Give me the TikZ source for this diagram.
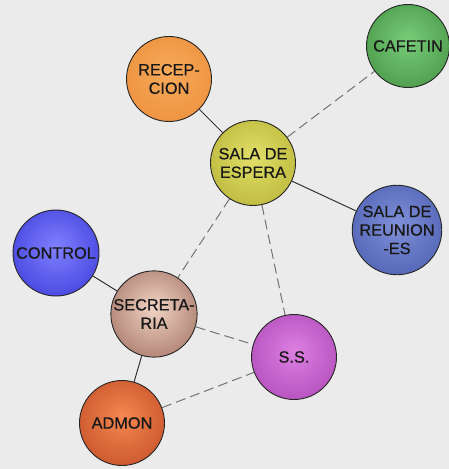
\documentclass[tikz,border=0pt]{standalone}
\usepackage{fontspec}
\setmainfont{Liberation Sans}[FakeBold=0.6]
\definecolor{bg}{HTML}{EBEBEB}
\definecolor{recIn}{HTML}{F8AA5A}\definecolor{recOut}{HTML}{E07A24}
\definecolor{cafIn}{HTML}{78CC78}\definecolor{cafOut}{HTML}{1F6A1F}
\definecolor{espIn}{HTML}{E2E06A}\definecolor{espOut}{HTML}{989210}
\definecolor{reuIn}{HTML}{8090DA}\definecolor{reuOut}{HTML}{22388E}
\definecolor{conIn}{HTML}{8080FF}\definecolor{conOut}{HTML}{0A0ABE}
\definecolor{secIn}{HTML}{F2D4C4}\definecolor{secOut}{HTML}{66281C}
\definecolor{ssIn}{HTML}{DC80E2}\definecolor{ssOut}{HTML}{8C1E96}
\definecolor{admIn}{HTML}{F68850}\definecolor{admOut}{HTML}{9A2208}
\newcommand{\mkshade}[3]{\pgfdeclareradialshading{#1}{\pgfpoint{0bp}{4bp}}{color(0bp)=(#2); color(30bp)=(#2!50!#3); color(50bp)=(#3)}}
\mkshade{shRec}{recIn}{recOut}
\mkshade{shCaf}{cafIn}{cafOut}
\mkshade{shEsp}{espIn}{espOut}
\mkshade{shReu}{reuIn}{reuOut}
\mkshade{shCon}{conIn}{conOut}
\mkshade{shSec}{secIn}{secOut}
\mkshade{shSS}{ssIn}{ssOut}
\mkshade{shAdm}{admIn}{admOut}
\tikzset{
  room/.style={circle, draw=black!85, line width=0.9bp, minimum size=85bp, inner sep=0pt,
    align=center, text=black!90, font=\fontsize{16.3bp}{18.5bp}\selectfont},
  solidlink/.style={draw=black!80, line width=1bp},
  dashlink/.style={draw=black!55, line width=1bp, dash pattern=on 10bp off 5bp},
}
\begin{document}
\begin{tikzpicture}[x=1bp,y=-1bp]
\fill[bg] (0,0) rectangle (449,469);
\useasboundingbox (0,0) rectangle (449,469);
\node[room, shading=shRec] (recep) at (169,79) {RECEP-\\CION};
\node[room, shading=shCaf, minimum size=83bp] (cafe) at (408,46) {CAFETIN};
\node[room, shading=shEsp] (espera) at (253,163) {SALA DE\\ESPERA};
\node[room, shading=shReu] (reunion) at (397,230) {SALA DE\\REUNION\\-ES};
\node[room, shading=shCon, minimum size=86bp] (control) at (56,253) {CONTROL};
\node[room, shading=shSec] (secre) at (154,314) {SECRETA-\\RIA};
\node[room, shading=shSS] (ss) at (294,357) {S.S.};
\node[room, shading=shAdm] (admon) at (122,423) {ADMON};
\draw[solidlink] (recep) -- (espera);
\draw[dashlink] (espera) -- (cafe);
\draw[solidlink] (espera) -- (reunion);
\draw[dashlink] (espera) -- (secre);
\draw[dashlink] (espera) -- (ss);
\draw[solidlink] (control) -- (secre);
\draw[dashlink] (secre) -- (ss);
\draw[solidlink] (secre) -- (admon);
\draw[dashlink] (admon) -- (ss);
\end{tikzpicture}
\end{document}
